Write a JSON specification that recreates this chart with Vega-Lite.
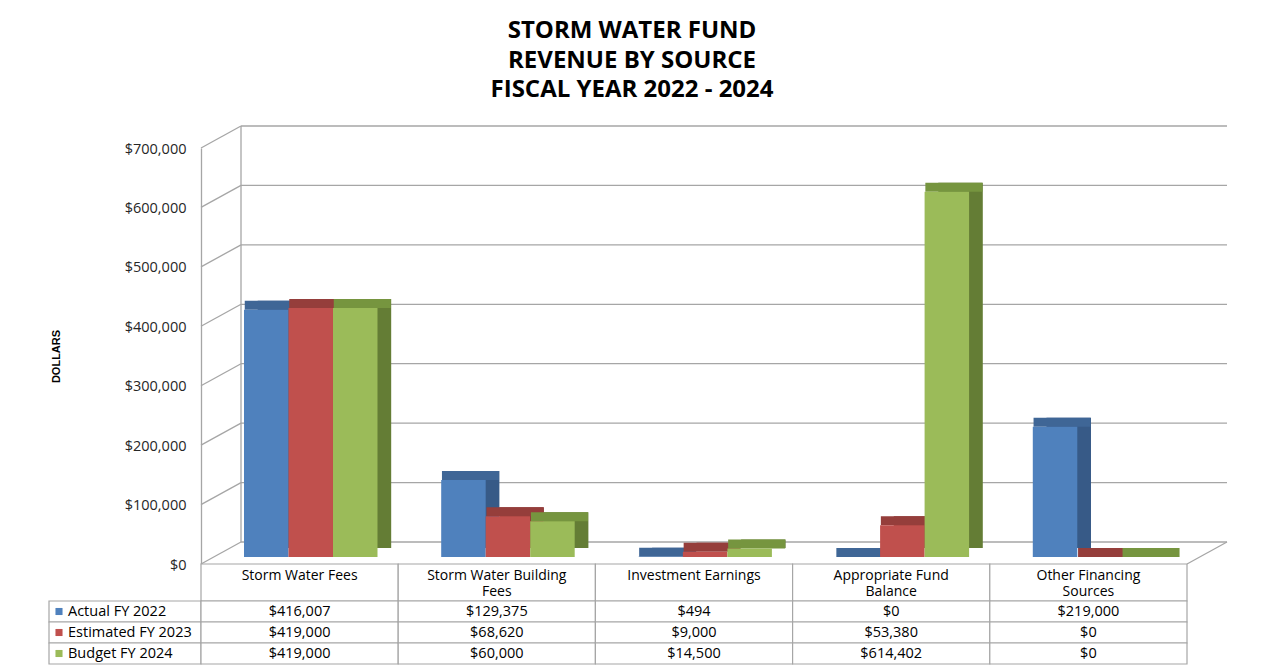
{
  "$schema": "https://vega.github.io/schema/vega-lite/v6.json",
  "background": "white",
  "padding": {"left": 48, "top": 19, "right": 0, "bottom": 0},
  "title": {
    "text": ["STORM WATER FUND", "REVENUE BY SOURCE", "FISCAL YEAR 2022 - 2024"],
    "font": "Open Sans",
    "fontSize": 24,
    "fontWeight": "bold",
    "lineHeight": 29.5,
    "color": "#000000",
    "anchor": "middle",
    "offset": 23,
    "dx": -6
  },
  "datasets": {
    "revenue": [
      {"source": "Storm Water Fees", "series": "Actual FY 2022", "amount": 416007},
      {"source": "Storm Water Fees", "series": "Estimated FY 2023", "amount": 419000},
      {"source": "Storm Water Fees", "series": "Budget FY 2024", "amount": 419000},
      {"source": "Storm Water Building Fees", "series": "Actual FY 2022", "amount": 129375},
      {"source": "Storm Water Building Fees", "series": "Estimated FY 2023", "amount": 68620},
      {"source": "Storm Water Building Fees", "series": "Budget FY 2024", "amount": 60000},
      {"source": "Investment Earnings", "series": "Actual FY 2022", "amount": 494},
      {"source": "Investment Earnings", "series": "Estimated FY 2023", "amount": 9000},
      {"source": "Investment Earnings", "series": "Budget FY 2024", "amount": 14500},
      {"source": "Appropriate Fund Balance", "series": "Actual FY 2022", "amount": 0},
      {"source": "Appropriate Fund Balance", "series": "Estimated FY 2023", "amount": 53380},
      {"source": "Appropriate Fund Balance", "series": "Budget FY 2024", "amount": 614402},
      {"source": "Other Financing Sources", "series": "Actual FY 2022", "amount": 219000},
      {"source": "Other Financing Sources", "series": "Estimated FY 2023", "amount": 0},
      {"source": "Other Financing Sources", "series": "Budget FY 2024", "amount": 0}
    ],
    "grid": [
      {"v": 0}, {"v": 100000}, {"v": 200000}, {"v": 300000},
      {"v": 400000}, {"v": 500000}, {"v": 600000}, {"v": 700000}
    ],
    "sources": [
      {"source": "Storm Water Fees", "label": "Storm Water Fees"},
      {"source": "Storm Water Building Fees", "label": "Storm Water Building\nFees"},
      {"source": "Investment Earnings", "label": "Investment Earnings"},
      {"source": "Appropriate Fund Balance", "label": "Appropriate Fund\nBalance"},
      {"source": "Other Financing Sources", "label": "Other Financing\nSources"}
    ],
    "series": [
      {"series": "Actual FY 2022"},
      {"series": "Estimated FY 2023"},
      {"series": "Budget FY 2024"}
    ],
    "blank": [{"b": ""}]
  },
  "columns": 2,
  "spacing": 0,
  "bounds": "flush",
  "concat": [
    {
      "width": 152, "height": 416,
      "data": {"name": "blank"},
      "mark": {"type": "text"},
      "encoding": {"text": {"field": "b"}}
    },
    {
      "width": 986, "height": 416,
      "data": {"name": "revenue"},
      "resolve": {"scale": {"xOffset": "independent", "color": "independent"}},
      "layer": [
        {
          "data": {"name": "grid"},
          "mark": {"type": "rule", "color": "#A6A6A6", "strokeWidth": 1.3, "xOffset": -58.6, "x2Offset": 138.6, "yOffset": -22},
          "encoding": {
            "x": {
              "datum": "Storm Water Fees", "type": "nominal",
              "scale": {"domain": ["Storm Water Fees", "Storm Water Building Fees", "Investment Earnings", "Appropriate Fund Balance", "Other Financing Sources"], "paddingInner": 0, "paddingOuter": 0},
              "axis": null
            },
            "x2": {"datum": "Other Financing Sources"},
            "y": {
              "field": "v", "type": "quantitative",
              "scale": {"domain": [0, 700000], "nice": false, "zero": true},
              "axis": {
                "values": [0, 100000, 200000, 300000, 400000, 500000, 600000, 700000],
                "format": "$,.0f",
                "grid": false, "ticks": false,
                "domain": true, "domainColor": "#A6A6A6", "domainWidth": 1.3,
                "labelFont": "Open Sans", "labelFontSize": 14.5, "labelColor": "#262626",
                "labelPadding": 15, "labelOffset": 1,
                "title": "DOLLARS", "titleFont": "Liberation Sans", "titleFontSize": 11,
                "titleFontWeight": "bold", "titleColor": "#000000", "titlePadding": 63
              }
            }
          }
        },
        {
          "data": {"name": "grid"},
          "mark": {"type": "rule", "color": "#A6A6A6", "strokeWidth": 1.3, "xOffset": -98.6, "x2Offset": -58.6, "y2Offset": -22},
          "encoding": {
            "x": {"datum": "Storm Water Fees", "type": "nominal"},
            "x2": {"datum": "Storm Water Fees"},
            "y": {"field": "v", "type": "quantitative"},
            "y2": {"field": "v"}
          }
        },
        {
          "data": {"name": "blank"},
          "mark": {"type": "rule", "color": "#A6A6A6", "strokeWidth": 1.3, "xOffset": -58.6, "yOffset": -22, "y2Offset": -22},
          "encoding": {
            "x": {"datum": "Storm Water Fees", "type": "nominal"},
            "y": {"datum": 0, "type": "quantitative"},
            "y2": {"datum": 700000}
          }
        },
        {
          "data": {"name": "blank"},
          "mark": {"type": "rule", "color": "#A6A6A6", "strokeWidth": 1.3, "xOffset": 98.6, "x2Offset": 138.6, "y2Offset": -22},
          "encoding": {
            "x": {"datum": "Other Financing Sources", "type": "nominal"},
            "x2": {"datum": "Other Financing Sources"},
            "y": {"datum": 0, "type": "quantitative"},
            "y2": {"datum": 0}
          }
        },
        {
          "mark": {"type": "bar", "yOffset": -16},
          "encoding": {
            "x": {"field": "source", "type": "nominal"},
            "xOffset": {
              "field": "series", "type": "nominal",
              "sort": ["Actual FY 2022", "Estimated FY 2023", "Budget FY 2024"],
              "scale": {"paddingInner": 0, "paddingOuter": 0.7157, "align": 0.89}
            },
            "y": {"field": "amount", "type": "quantitative"},
            "fill": {
              "field": "series", "type": "nominal",
              "scale": {"domain": ["Actual FY 2022", "Estimated FY 2023", "Budget FY 2024"], "range": ["#375A87", "#8A3735", "#647D35"]},
              "legend": null
            }
          }
        },
        {
          "mark": {"type": "tick", "yOffset": -11.5, "thickness": 9, "size": 57, "opacity": 1},
          "encoding": {
            "x": {"field": "source", "type": "nominal"},
            "xOffset": {
              "field": "series", "type": "nominal",
              "sort": ["Actual FY 2022", "Estimated FY 2023", "Budget FY 2024"],
              "scale": {"paddingInner": 0, "paddingOuter": 0.7157, "align": 0.785}
            },
            "y": {"field": "amount", "type": "quantitative"},
            "color": {
              "field": "series", "type": "nominal",
              "scale": {"domain": ["Actual FY 2022", "Estimated FY 2023", "Budget FY 2024"], "range": ["#3F6696", "#953E3B", "#76953F"]},
              "legend": null
            }
          }
        },
        {
          "mark": {"type": "bar", "yOffset": -7, "opacity": 1},
          "encoding": {
            "x": {"field": "source", "type": "nominal"},
            "xOffset": {
              "field": "series", "type": "nominal",
              "sort": ["Actual FY 2022", "Estimated FY 2023", "Budget FY 2024"],
              "scale": {"paddingInner": 0, "paddingOuter": 0.7157, "align": 0.675}
            },
            "y": {"field": "amount", "type": "quantitative"},
            "color": {
              "field": "series", "type": "nominal",
              "scale": {"domain": ["Actual FY 2022", "Estimated FY 2023", "Budget FY 2024"], "range": ["#4F81BD", "#C0504D", "#9BBB59"]},
              "legend": null
            }
          }
        }
      ]
    },
    {
      "width": 152, "height": 37,
      "data": {"name": "blank"},
      "mark": {"type": "text"},
      "encoding": {"text": {"field": "b"}}
    },
    {
      "width": 986, "height": 37,
      "data": {"name": "sources"},
      "layer": [
        {
          "mark": {"type": "rect", "fill": "white", "stroke": "#A6A6A6", "strokeWidth": 1.2},
          "encoding": {
            "x": {
              "field": "source", "type": "nominal",
              "sort": ["Storm Water Fees", "Storm Water Building Fees", "Investment Earnings", "Appropriate Fund Balance", "Other Financing Sources"],
              "scale": {"paddingInner": 0, "paddingOuter": 0},
              "axis": null
            }
          }
        },
        {
          "mark": {"type": "text", "baseline": "top", "lineBreak": "\n", "lineHeight": 16.5, "font": "Open Sans", "fontSize": 14, "color": "#000000", "yOffset": -14},
          "encoding": {
            "x": {
              "field": "source", "type": "nominal",
              "sort": ["Storm Water Fees", "Storm Water Building Fees", "Investment Earnings", "Appropriate Fund Balance", "Other Financing Sources"]
            },
            "text": {"field": "label"}
          }
        }
      ]
    },
    {
      "width": 152, "height": 63,
      "data": {"name": "series"},
      "layer": [
        {
          "mark": {"type": "rect", "fill": "white", "stroke": "#A6A6A6", "strokeWidth": 1.2},
          "encoding": {
            "y": {
              "field": "series", "type": "nominal",
              "sort": ["Actual FY 2022", "Estimated FY 2023", "Budget FY 2024"],
              "scale": {"paddingInner": 0, "paddingOuter": 0},
              "axis": null
            }
          }
        },
        {
          "mark": {"type": "point", "shape": "square", "filled": true, "size": 50, "opacity": 1, "xOffset": -66},
          "encoding": {
            "y": {
              "field": "series", "type": "nominal",
              "sort": ["Actual FY 2022", "Estimated FY 2023", "Budget FY 2024"]
            },
            "color": {
              "field": "series", "type": "nominal",
              "scale": {"domain": ["Actual FY 2022", "Estimated FY 2023", "Budget FY 2024"], "range": ["#4F81BD", "#C0504D", "#9BBB59"]},
              "legend": null
            }
          }
        },
        {
          "mark": {"type": "text", "align": "left", "font": "Open Sans", "fontSize": 14.5, "color": "#000000", "xOffset": -57},
          "encoding": {
            "y": {
              "field": "series", "type": "nominal",
              "sort": ["Actual FY 2022", "Estimated FY 2023", "Budget FY 2024"]
            },
            "text": {"field": "series"}
          }
        }
      ]
    },
    {
      "width": 986, "height": 63,
      "data": {"name": "revenue"},
      "layer": [
        {
          "mark": {"type": "rect", "fill": "white", "stroke": "#A6A6A6", "strokeWidth": 1.2},
          "encoding": {
            "x": {
              "field": "source", "type": "nominal",
              "sort": ["Storm Water Fees", "Storm Water Building Fees", "Investment Earnings", "Appropriate Fund Balance", "Other Financing Sources"],
              "scale": {"paddingInner": 0, "paddingOuter": 0},
              "axis": null
            },
            "y": {
              "field": "series", "type": "nominal",
              "sort": ["Actual FY 2022", "Estimated FY 2023", "Budget FY 2024"],
              "scale": {"paddingInner": 0, "paddingOuter": 0},
              "axis": null
            }
          }
        },
        {
          "mark": {"type": "text", "font": "Open Sans", "fontSize": 14.5, "color": "#000000"},
          "encoding": {
            "x": {
              "field": "source", "type": "nominal",
              "sort": ["Storm Water Fees", "Storm Water Building Fees", "Investment Earnings", "Appropriate Fund Balance", "Other Financing Sources"]
            },
            "y": {
              "field": "series", "type": "nominal",
              "sort": ["Actual FY 2022", "Estimated FY 2023", "Budget FY 2024"]
            },
            "text": {"field": "amount", "type": "quantitative", "format": "$,.0f"}
          }
        }
      ]
    }
  ],
  "config": {
    "view": {"stroke": null},
    "font": "Open Sans"
  }
}
